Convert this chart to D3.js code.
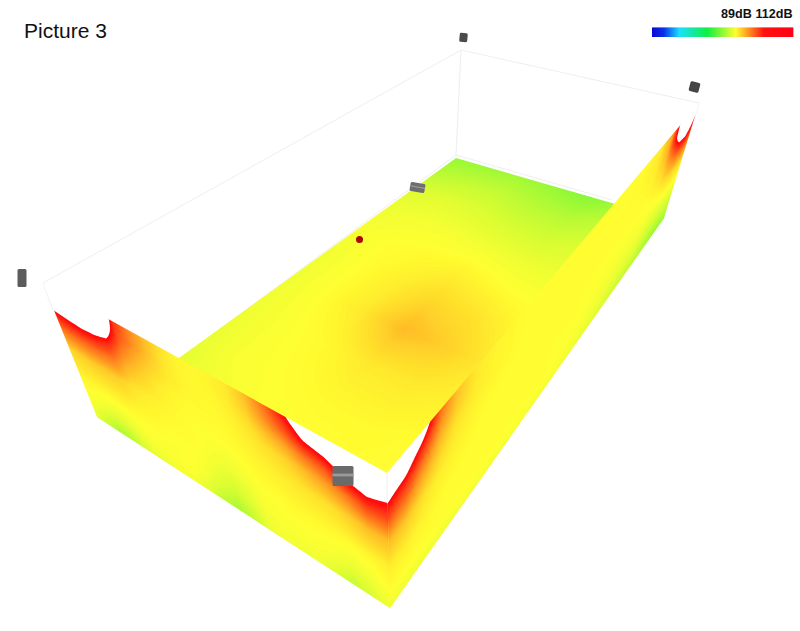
<!DOCTYPE html>
<html><head><meta charset="utf-8">
<script src="https://cdn.jsdelivr.net/npm/d3@7/dist/d3.min.js"></script>
<style>html,body{margin:0;background:#fff}svg{display:block}text{font-family:"Liberation Sans",Arial,sans-serif;fill:#111}</style>
</head><body><svg id="c" width="800" height="631"></svg>
<script>
const legendDomain = [89, 112];
const legendLabel = "89dB 112dB";
const titleLabel = "Picture 3";
const clipAbove = 107.5;

const floorS = [0, 1/6, 2/6, 3/6, 4/6, 5/6, 1];
const floorT = [0, .1, .2, .3, .4, .5, .6, .7, .8, .9, 1];
const floorValues = [
 [100.6,100.7,100.8,100.6,100.3,100.8,101.0],
 [101.3,101.5,101.5,101.2,101.1,101.5,101.6],
 [102.0,102.1,102.0,101.8,101.7,102.0,102.0],
 [102.3,102.4,102.4,102.3,102.2,102.2,102.2],
 [102.4,102.6,102.7,102.8,102.6,102.5,102.4],
 [102.3,102.6,102.9,103.3,103.1,102.7,102.6],
 [102.3,102.6,103.0,103.9,103.5,102.9,102.6],
 [102.3,102.5,102.7,103.0,103.0,102.8,102.6],
 [102.2,102.5,102.6,102.7,102.7,102.6,102.6],
 [102.0,102.3,102.5,102.5,102.6,102.6,102.6],
 [101.9,102.2,102.4,102.5,102.5,102.5,102.5]
];
const wallDepth = [0, .1, .2, .3, .45, .65, .85, 1];
const frontAlong = d3.range(21).map(i => i / 20);
// one list per position along the wall, top to bottom
const frontValues = [
 [112,109.5,107,105.3,103.4,102.8,102.5,102.2],
 [112,110,107.3,105.5,103.5,102.8,102.3,101.6],
 [112,110.5,107.5,105.6,103.6,102.8,102.1,101.0],
 [112,110,107.3,105.5,103.6,102.8,102.1,101.2],
 [112,109,106.7,105.2,103.5,102.8,102.3,101.8],
 [106.6,106,105,104,103.1,102.7,102.5,102.2],
 [105,104.8,104,103.5,102.9,102.7,102.5,102.3],
 [104,103.8,103.4,103,102.8,102.6,102.5,102.4],
 [103.2,103.1,103,102.8,102.7,102.6,102.6,102.4],
 [102.8,102.8,102.8,102.7,102.6,102.6,102.4,102],
 [102.7,102.7,102.7,102.7,102.6,102.4,102,101.3],
 [102.8,102.8,102.7,102.7,102.6,102.3,101.7,100.9],
 [103,103,102.9,102.8,102.7,102.4,102,101.5],
 [103.8,103.6,103.2,103,102.8,102.6,102.4,102.2],
 [105.2,104.7,103.8,103.2,102.9,102.6,102.5,102.4],
 [107,105.8,104.4,103.5,103,102.7,102.5,102.3],
 [109,107.4,105.3,104,103.1,102.7,102.5,102.3],
 [110,108,105.9,104.5,103.2,102.7,102.4,102],
 [112,109,107.4,105.2,103.5,102.7,102.2,101.5],
 [112,110,108,106.2,103.9,102.8,102.3,101.9],
 [112,109,107.3,106,103.9,102.9,102.6,102.3]
];
const rightAlong = [0,.03,.06,.09,.12,.16,.2,.3,.4,.5,.6,.7,.78,.84,.88,.92,.96,1];
const rightValues = [
 [112,109,107.2,105.8,103.9,102.9,102.6,102.3],
 [112,108.5,106.6,105.3,103.7,102.9,102.6,102.3],
 [108.5,106.6,105.2,104.2,103.2,102.8,102.6,102.3],
 [105.3,104.6,103.9,103.4,102.9,102.7,102.6,102.3],
 [103.8,103.6,103.2,103,102.8,102.6,102.6,102.3],
 [103,103,102.9,102.8,102.7,102.6,102.6,102.4],
 [102.8,102.8,102.8,102.7,102.6,102.6,102.6,102.4],
 [102.6,102.6,102.6,102.6,102.6,102.6,102.6,102.4],
 [102.6,102.6,102.6,102.6,102.6,102.6,102.6,102.4],
 [102.6,102.6,102.6,102.6,102.6,102.6,102.5,102.3],
 [102.6,102.6,102.6,102.6,102.6,102.5,102.3,102],
 [102.7,102.7,102.7,102.6,102.6,102.4,102.1,101.6],
 [103,103,102.9,102.8,102.6,102.4,102,101.3],
 [104.4,104.2,103.8,103.3,102.8,102.3,101.7,101],
 [107.6,107.2,105.5,104.3,103.1,102.3,101.6,100.8],
 [112,110,107.2,105.2,103.3,102.4,101.5,100.6],
 [112,110,107.6,105.4,103.3,102.4,101.5,100.6],
 [112,107.5,106.3,104.9,103.2,102.4,101.5,100.7]
];
const colorStops = [0, .08, .19, .39, .59, .79, 1];
const colorRange = ["#0a0ad8","#0a30e8","#18e0ff","#10f040","#ffff30","#ff1010","#ff0018"];

const svg = d3.select("#c");
const dB = d3.scaleLinear().domain(legendDomain).range([0, 1]);
const ramp = d3.scaleLinear().domain(colorStops).range(colorRange).interpolate(d3.interpolateRgb).clamp(true);
const color = v => ramp(dB(v));

// page projection of the box
const corner = {
  backTop:[461,50], rightTop:[699,103], leftTop:[43,283], nearTop:[387,473],
  back:[456,158], right:[664,218], left:[97,417], near:[390,608]
};
function homography(p0,p1,p2,p3){
  const sx=p0[0]-p1[0]+p2[0]-p3[0], sy=p0[1]-p1[1]+p2[1]-p3[1];
  const dx1=p1[0]-p2[0], dx2=p3[0]-p2[0], dy1=p1[1]-p2[1], dy2=p3[1]-p2[1];
  const den=dx1*dy2-dx2*dy1;
  const g=(sx*dy2-dx2*sy)/den, h=(dx1*sy-sx*dy1)/den;
  const a=p1[0]-p0[0]+g*p1[0], b=p3[0]-p0[0]+h*p3[0];
  const d=p1[1]-p0[1]+g*p1[1], e=p3[1]-p0[1]+h*p3[1];
  return (u,v)=>{const w=g*u+h*v+1;return [(a*u+b*v+p0[0])/w,(d*u+e*v+p0[1])/w];};
}
function sampler(us,vs,get){
  const cl=x=>Math.max(0,Math.min(1,x));
  return (u0,v0)=>{
    const u=cl(u0), v=cl(v0);
    const i=Math.min(Math.max(d3.bisectRight(us,u)-1,0),us.length-2);
    const j=Math.min(Math.max(d3.bisectRight(vs,v)-1,0),vs.length-2);
    const fu=(u-us[i])/(us[i+1]-us[i]), fv=(v-vs[j])/(vs[j+1]-vs[j]);
    const top=get(i,j)*(1-fu)+get(i+1,j)*fu, bot=get(i,j+1)*(1-fu)+get(i+1,j+1)*fu;
    return top*(1-fv)+bot*fv;
  };
}
const levels=d3.range(96,clipAbove,.05);
let faceId=0;
function face(root,corners,sample,nu,nv){
  const proj=homography(...corners), pad=3, gw=nu+2*pad, gh=nv+2*pad, grid=new Float64Array(gw*gh);
  for(let j=0;j<gh;j++)for(let i=0;i<gw;i++)grid[j*gw+i]=sample((i+.5-pad)/nu,(j+.5-pad)/nv);
  const toPage=d3.geoTransform({point(x,y){const p=proj((x-pad)/nu,(y-pad)/nv);this.stream.point(p[0],p[1]);}});
  const path=d3.geoPath(toPage);
  const id="face"+(++faceId);
  const outline=[proj(0,0),proj(1,0),proj(1,1),proj(0,1)].join(" ");
  root.append("clipPath").attr("id",id).append("polygon").attr("points",outline);
  // the inner group is flattened first, so the clip cuts the stacked bands once
  const g=root.append("g").attr("clip-path",`url(#${id})`).append("g").attr("opacity",.999);
  g.append("polygon").attr("points",outline).attr("fill",color(levels[0]));
  const bands=d3.contours().size([gw,gh]).thresholds([...levels,clipAbove])(grid);
  g.selectAll("path").data(bands).join("path")
    .attr("d",path)
    .attr("fill",d=>d.value>=clipAbove?"#fff":color(d.value));
}
const defs=svg.append("defs");
defs.append("filter").attr("id","soft").attr("x","-5%").attr("y","-5%").attr("width","110%").attr("height","110%")
  .append("feGaussianBlur").attr("stdDeviation",.7);

// frame lines behind the surfaces
const frame=[
 [corner.leftTop,corner.backTop],[corner.backTop,corner.rightTop],[corner.backTop,[456,155]],
 [[186,354],[456,155]],[[456,155],[612,200]],[corner.leftTop,[53,310]],[corner.rightTop,[695,116]]
];
svg.append("g").selectAll("line").data(frame).join("line")
  .attr("x1",d=>d[0][0]).attr("y1",d=>d[0][1]).attr("x2",d=>d[1][0]).attr("y2",d=>d[1][1])
  .attr("stroke","#eeeeee").attr("stroke-width",1);

const heat=svg.append("g").attr("filter","url(#soft)");
face(heat,[corner.back,corner.right,corner.near,corner.left],
  sampler(floorS,floorT,(i,j)=>floorValues[j][i]),120,180);
face(heat,[corner.leftTop,corner.nearTop,corner.near,corner.left],
  sampler(frontAlong,wallDepth,(i,j)=>frontValues[i][j]),240,100);
face(heat,[corner.nearTop,corner.rightTop,corner.right,corner.near],
  sampler(rightAlong,wallDepth,(i,j)=>rightValues[i][j]),400,100);

svg.append("g").selectAll("line").data([[corner.nearTop,[387,499]]]).join("line")
  .attr("x1",d=>d[0][0]).attr("y1",d=>d[0][1]).attr("x2",d=>d[1][0]).attr("y2",d=>d[1][1])
  .attr("stroke","#f2f2f2").attr("stroke-width",1);

// receivers and source
const boxes=[
 {x:463.5,y:37.5,w:8,h:9,r:5,f:"#4a4a4a"},
 {x:694.5,y:87,w:10,h:10,r:15,f:"#454545"},
 {x:22,y:278,w:9,h:18,r:0,f:"#5c5c5c"},
 {x:417.5,y:187.5,w:15,h:9,r:10,f:"#6e6e6e"},
 {x:343,y:476,w:21,h:20,r:0,f:"#6a6a6a"}
];
const bx=svg.append("g").selectAll("g").data(boxes).join("g")
  .attr("transform",d=>`translate(${d.x},${d.y}) rotate(${d.r})`);
bx.append("rect").attr("x",d=>-d.w/2).attr("y",d=>-d.h/2).attr("width",d=>d.w).attr("height",d=>d.h).attr("rx",1.5).attr("fill",d=>d.f);
bx.filter(d=>d.w>12).append("rect").attr("x",d=>-d.w/2).attr("y",d=>-d.h*.12).attr("width",d=>d.w).attr("height",d=>d.h*.14).attr("fill","#9a9a9a");
svg.append("circle").attr("cx",359.5).attr("cy",239.5).attr("r",3.5).attr("fill","#ad0606");

// colour legend
const legendX=d3.scaleLinear().domain(legendDomain).range([652,793]);
const legendSteps=d3.range(legendDomain[0],legendDomain[1],(legendDomain[1]-legendDomain[0])/141);
svg.append("g").selectAll("rect").data(legendSteps).join("rect")
  .attr("x",d=>legendX(d)).attr("y",27.5).attr("width",1.4).attr("height",9.5).attr("fill",d=>color(d));
svg.append("text").attr("x",792.5).attr("y",17.5).attr("text-anchor","end")
  .attr("font-size",12.6).attr("font-weight","bold").text(legendLabel);
svg.append("text").attr("x",24).attr("y",37.5).attr("font-size",21).text(titleLabel);
</script></body></html>
